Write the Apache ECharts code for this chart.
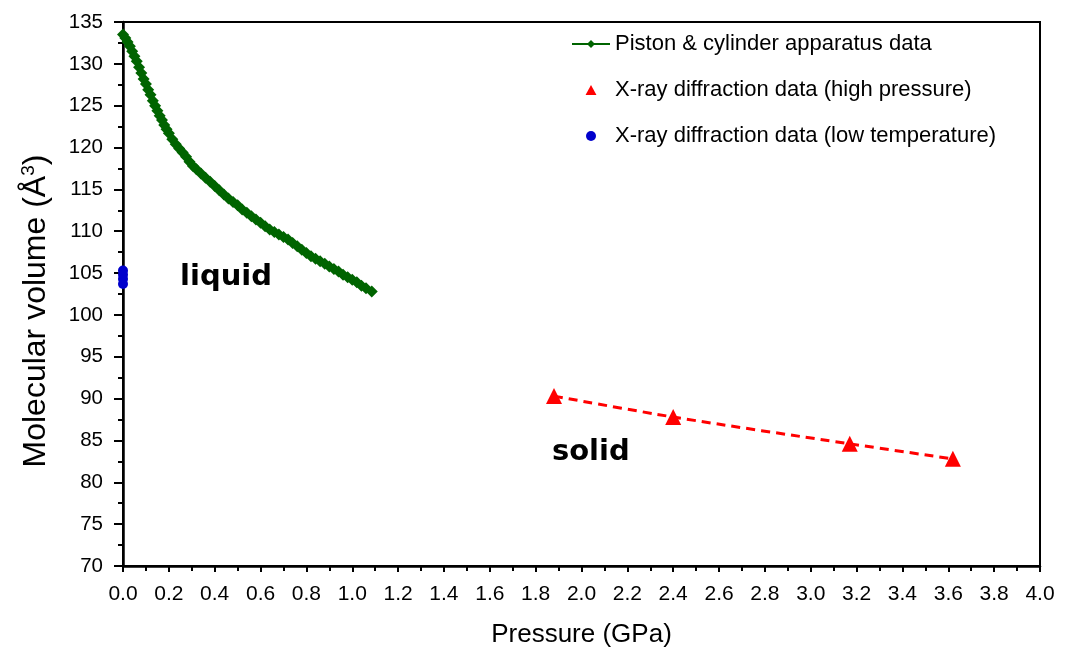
<!DOCTYPE html>
<html>
<head>
<meta charset="utf-8">
<script src="https://cdn.jsdelivr.net/npm/echarts@6/dist/echarts.min.js"></script>
<style>html,body{margin:0;padding:0;background:#fff}#c{width:1066px;height:657px}</style>
</head>
<body>
<div id="c"></div>
<script>
// Piston & cylinder apparatus data: [pressure GPa, volume Å^3]
const pistonData = [
  [0.000,133.5],[0.010,133.1],[0.020,132.6],[0.030,132.1],[0.040,131.5],[0.050,130.9],
  [0.060,130.3],[0.070,129.6],[0.080,128.9],[0.090,128.2],[0.100,127.6],[0.110,126.9],
  [0.120,126.3],[0.130,125.6],[0.140,125.0],[0.150,124.4],[0.160,123.8],[0.170,123.3],
  [0.180,122.7],[0.190,122.2],[0.200,121.7],[0.215,121.0],[0.230,120.4],[0.245,119.9],
  [0.260,119.4],[0.275,118.9],[0.290,118.3],[0.305,117.8],[0.320,117.4],[0.340,116.9],
  [0.360,116.4],[0.380,115.9],[0.400,115.4],[0.420,114.9],[0.440,114.4],[0.460,113.9],
  [0.480,113.5],[0.500,113.1],[0.520,112.6],[0.540,112.2],[0.560,111.8],[0.580,111.4],
  [0.600,111.0],[0.620,110.6],[0.640,110.2],[0.660,109.9],[0.680,109.6],[0.700,109.3],
  [0.720,109.0],[0.740,108.6],[0.760,108.2],[0.780,107.8],[0.800,107.4],[0.820,107.0],
  [0.840,106.7],[0.860,106.4],[0.880,106.1],[0.900,105.8],[0.920,105.5],[0.940,105.2],
  [0.960,104.8],[0.980,104.5],[1.000,104.2],[1.020,103.9],[1.040,103.5],[1.060,103.2],
  [1.085,102.8]
];
// X-ray diffraction data (high pressure)
const xrayHighP = [[1.88,90.3],[2.40,87.8],[3.17,84.6],[3.62,82.8]];
// X-ray diffraction data (low temperature)
const xrayLowT = [[0.0,105.3],[0.0,104.8],[0.0,104.3],[0.0,103.7]];
// labels
const seriesNames = ['Piston & cylinder apparatus data','X-ray diffraction data (high pressure)','X-ray diffraction data (low temperature)'];
const phaseLabels = [{text:'liquid', x:0.249, y:104.5},{text:'solid', x:1.871, y:83.6}];
const xTitle = 'Pressure (GPa)';
const yTitle = 'Molecular volume (Å{sup|3})';

const FONT = '"Liberation Sans", Arial, sans-serif';
const chart = echarts.init(document.getElementById('c'), null, {renderer:'canvas'});
const option = {
  animation:false,
  backgroundColor:'#fff',
  textStyle:{fontFamily:FONT},
  grid:{left:123, right:26, top:22, bottom:91, show:true, borderColor:'#000', borderWidth:2, backgroundColor:'transparent'},
  legend:{
    orient:'vertical', left:566, top:28, itemGap:24, itemWidth:38, itemHeight:10,
    symbolKeepAspect:true,
    textStyle:{fontFamily:FONT, fontSize:22, color:'#000'},
    data:[
      {name:seriesNames[0]},
      {name:seriesNames[1], icon:'path://M6,0L12,11L0,11Z'},
      {name:seriesNames[2]}
    ]
  },
  xAxis:{
    type:'value', min:0, max:4, interval:0.2,
    name:xTitle, nameLocation:'middle', nameGap:56,
    nameTextStyle:{fontFamily:FONT, fontSize:26, color:'#000'},
    axisLine:{show:true, onZero:false, lineStyle:{color:'#000', width:2.5}},
    axisTick:{show:true, inside:false, length:6, lineStyle:{color:'#000', width:2}},
    minorTick:{show:true, splitNumber:2, length:5, lineStyle:{color:'#000', width:2}},
    axisLabel:{fontFamily:FONT, fontSize:21, color:'#000', margin:18, formatter:v=>v.toFixed(1)},
    splitLine:{show:false}
  },
  yAxis:{
    type:'value', min:70, max:135, interval:5,
    name:yTitle, nameLocation:'middle', nameGap:70, nameRotate:90,
    nameTextStyle:{fontFamily:FONT, fontSize:32, color:'#000', padding:[0,34,0,0],
      rich:{sup:{fontFamily:FONT, fontSize:19, color:'#000', padding:[0,0,15,0]}}},
    axisLine:{show:true, onZero:false, lineStyle:{color:'#000', width:2.5}},
    axisTick:{show:true, inside:false, length:9, lineStyle:{color:'#000', width:2}},
    minorTick:{show:true, splitNumber:2, length:5, lineStyle:{color:'#000', width:2}},
    axisLabel:{fontFamily:FONT, fontSize:20.5, color:'#000', margin:20},
    splitLine:{show:false}
  },
  series:[
    {
      name:seriesNames[0], type:'line', data:pistonData,
      symbol:'diamond', symbolSize:12, showSymbol:true,
      lineStyle:{color:'#006400', width:2},
      itemStyle:{color:'#006400'},
      z:3
    },
    {
      name:'high-pressure trend', type:'line', data:xrayHighP, smooth:0.3,
      showSymbol:false, symbol:'none',
      lineStyle:{color:'#ff0000', width:3, type:[9,6]},
      z:2
    },
    {
      name:seriesNames[1], type:'scatter', data:xrayHighP,
      symbol:'triangle', symbolSize:16,
      itemStyle:{color:'#ff0000', opacity:1},
      z:3
    },
    {
      name:seriesNames[2], type:'scatter', data:xrayLowT,
      symbol:'circle', symbolSize:10,
      itemStyle:{color:'#0000cc', opacity:1},
      z:4
    },
    {
      name:'labels', type:'scatter', symbolSize:0, silent:true,
      itemStyle:{opacity:1},
      data:phaseLabels.map(p=>({value:[p.x,p.y], label:{show:true, formatter:p.text, color:'#000'}})),
      label:{show:true, position:'right', distance:0, fontFamily:'"DejaVu Sans", Verdana, sans-serif', fontSize:29, fontWeight:'bold', color:'#000'},
      z:5
    }
  ]
};
chart.setOption(option);
</script>
</body>
</html>
